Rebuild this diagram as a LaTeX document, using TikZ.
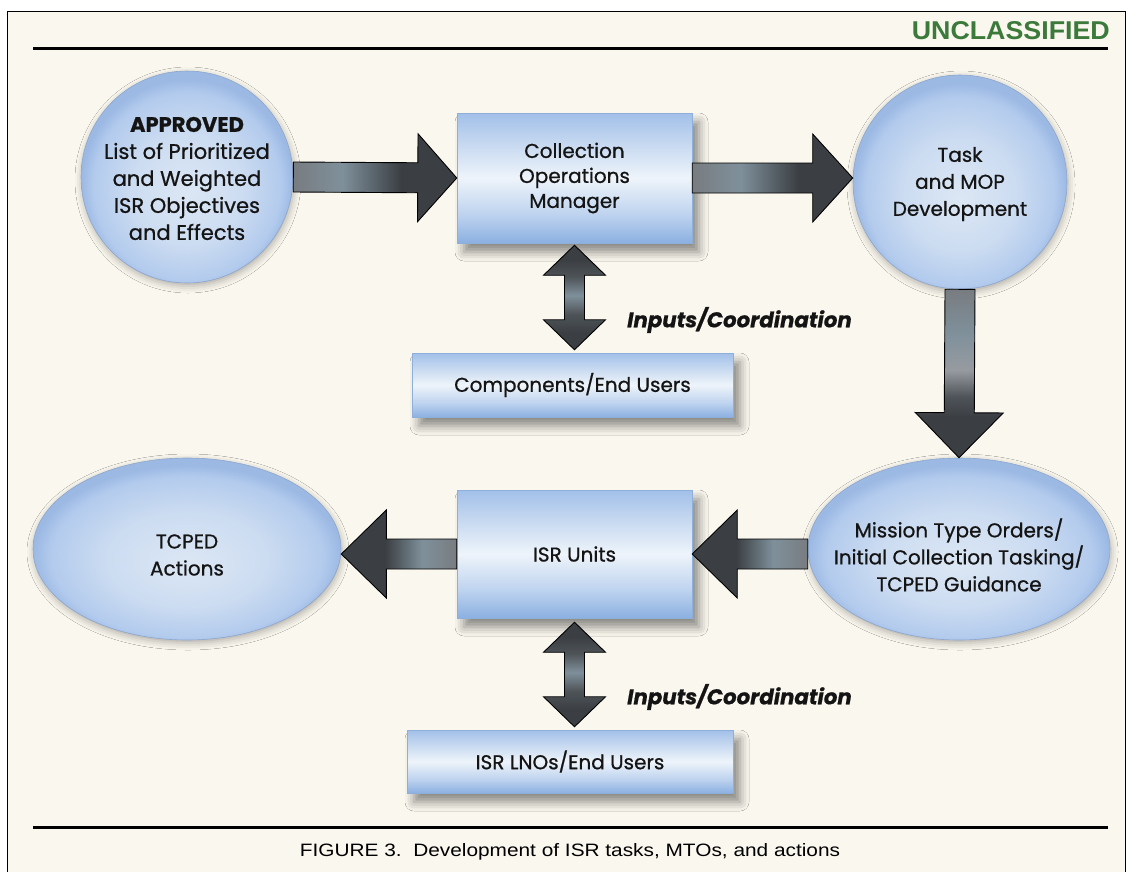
\documentclass[tikz,border=0pt]{standalone}
\usepackage{fontspec}
\setmainfont{Poppins}[FakeBold=0.75]
\newfontfamily\capfont{Liberation Sans}
\usetikzlibrary{calc,shapes.geometric,shadows.blur}

\definecolor{cream}{HTML}{FAF7EE}
\definecolor{ugreen}{HTML}{3C7A3C}
\definecolor{ink}{HTML}{141414}
% box shading colours
\definecolor{bxT}{HTML}{A2C0E9}
\definecolor{bxTm}{HTML}{CADBF1}
\definecolor{bxL}{HTML}{EEF4FA}
\definecolor{bxBm}{HTML}{BED3EF}
\definecolor{bxB}{HTML}{8BB0E1}
\definecolor{boxline}{HTML}{8EAFDA}
% orb shading colours
\definecolor{blC}{HTML}{DCE7F4}
\definecolor{blM}{HTML}{CCDCF1}
\definecolor{blE}{HTML}{B3CBED}
\definecolor{blO}{HTML}{9CB9E4}
\definecolor{orbline}{HTML}{8CA6CC}
% arrow colours
\definecolor{agD}{HTML}{3B3F43}
\definecolor{agM}{HTML}{4E5357}
\definecolor{agG}{HTML}{787C80}
\definecolor{agB}{HTML}{7F909B}
\definecolor{agL}{HTML}{979BA0}

\pgfdeclareverticalshading{boxsh}{100bp}{color(0bp)=(bxB); color(25bp)=(bxB); color(36bp)=(bxBm); color(50bp)=(bxL); color(62bp)=(bxTm); color(75bp)=(bxT); color(100bp)=(bxT)}
\pgfdeclareradialshading{orbsh}{\pgfpoint{0bp}{-4bp}}{color(0bp)=(blC); color(13bp)=(blM); color(22bp)=(blE); color(25bp)=(blO); color(50bp)=(blO)}
\pgfdeclarehorizontalshading{arrR}{100bp}{color(0bp)=(agG); color(25bp)=(agG); color(40bp)=(agB); color(58bp)=(agD); color(75bp)=(agD); color(100bp)=(agD)}
\pgfdeclarehorizontalshading{arrL}{100bp}{color(0bp)=(agD); color(25bp)=(agD); color(44bp)=(agD); color(60bp)=(agB); color(75bp)=(agG); color(100bp)=(agG)}
\pgfdeclareverticalshading{arrD}{100bp}{color(0bp)=(agD); color(37bp)=(agD); color(43bp)=(agM); color(51bp)=(agL); color(62bp)=(agB); color(75bp)=(agG); color(100bp)=(agG)}
\pgfdeclareverticalshading{arrV}{100bp}{color(0bp)=(agD); color(33bp)=(agD); color(42bp)=(agM); color(51bp)=(agB); color(60bp)=(agM); color(68bp)=(agD); color(100bp)=(agD)}

% fat single arrow: #1 style, #2 tail, #3 tip, #4 head length
\newcommand\fatarrow[4]{%
  \coordinate (fah) at ($(#3)!#4!(#2)$);
  \path[#1] ($(#2)!15pt!90:(#3)$) -- ($(fah)!15pt!90:(#3)$) -- ($(fah)!44pt!90:(#3)$)
    -- (#3) -- ($(fah)!44pt!-90:(#3)$) -- ($(fah)!15pt!-90:(#3)$) -- ($(#2)!15pt!-90:(#3)$) -- cycle;}
% fat double arrow: #1 style, #2 one tip, #3 other tip (named coordinates)
\newcommand\fatdouble[3]{%
  \coordinate (dah1) at ($(#2)!30pt!(#3)$);
  \coordinate (dah2) at ($(#3)!30pt!(#2)$);
  \path[#1] (#2) -- ($(dah1)!31pt!90:(#3)$) -- ($(dah1)!10pt!90:(#3)$) -- ($(dah2)!10pt!-90:(#2)$)
    -- ($(dah2)!31pt!-90:(#2)$) -- (#3) -- ($(dah2)!31pt!90:(#2)$) -- ($(dah2)!10pt!90:(#2)$)
    -- ($(dah1)!10pt!-90:(#3)$) -- ($(dah1)!31pt!-90:(#3)$) -- cycle;}

\tikzset{
  orb/.style={circle, inner sep=0pt, minimum size=#1, shading=orbsh, draw=orbline, line width=0.6pt,
    blur shadow={shadow xshift=1pt, shadow yshift=-3pt, shadow blur radius=7pt, shadow opacity=30}},
  oval/.style={ellipse, inner sep=0pt, shading=orbsh, draw=orbline, line width=0.6pt,
    blur shadow={shadow xshift=1pt, shadow yshift=-3pt, shadow blur radius=7pt, shadow opacity=30}},
  panel/.style={rectangle, inner sep=0pt, shading=boxsh, draw=boxline, line width=0.5pt,
    text=ink, font=\fontsize{20}{25}\selectfont, align=center,
    blur shadow={shadow xshift=7pt, shadow yshift=-9pt, shadow blur radius=9pt, shadow opacity=45}},
  lbl/.style={inner sep=0pt, text=ink, font=\fontsize{20}{27}\selectfont, align=center},
  coord/.style={inner sep=0pt, text=ink, font=\fontsize{21.3}{23}\selectfont\bfseries\itshape, anchor=west},
  rshaft/.style={shading=arrR, draw=black, line width=0.9pt, line join=miter},
  lshaft/.style={shading=arrL, draw=black, line width=0.9pt, line join=miter},
  dshaft/.style={shading=arrD, draw=black, line width=0.9pt, line join=miter},
  vshaft/.style={shading=arrV, draw=black, line width=0.9pt, line join=miter},
}

\begin{document}
\begin{tikzpicture}[x=1pt,y=-1pt]
\useasboundingbox (0,0) rectangle (1126,871);
\fill[white] (0,0) rectangle (1126,871);
\draw[fill=cream, line width=1pt] (7,11) rectangle (1125,885);
\draw[line width=3pt] (33,48) -- (1108,48);
\draw[line width=3pt] (33,827) -- (1108,827);

\node[inner sep=0pt, anchor=east, text=ugreen] (uncl) at (1110,31)
  {\resizebox{198pt}{18pt}{\capfont\bfseries UNCLASSIFIED}};
\node[inner sep=0pt] (cap) at (570,852)
  {\resizebox{540pt}{13pt}{\capfont FIGURE 3.\ \ Development of ISR tasks, MTOs, and actions}};

% shapes
\node[orb=212pt] (c1) at (187,177) {};
\node[lbl, font=\fontsize{21}{27}\selectfont] (c1t) at (187,178.5) {\textbf{APPROVED}\\List of Prioritized\\and Weighted\\ISR Objectives\\and Effects};

\node[panel, minimum width=235pt, minimum height=130pt] (com) at (574.5,178) {Collection\\Operations\\Manager};

\node[orb=214pt] (c2) at (960,182) {};
\node[lbl] (c2t) at (960,184) {Task\\and MOP\\Development};

\node[panel, minimum width=321pt, minimum height=64pt] (comp) at (572.5,385) {Components/End Users};

\node[oval, minimum width=302pt, minimum height=182pt] (mto) at (959,549) {};
\node[lbl] (mtot) at (959,555) {Mission Type Orders/\\Initial Collection Tasking/\\TCPED Guidance};

\node[panel, minimum width=235pt, minimum height=128pt] (isr) at (574.5,554) {ISR Units};

\node[oval, minimum width=308pt, minimum height=182pt] (tcp) at (187,549) {};
\node[lbl] (tcpt) at (187,555) {TCPED\\Actions};

\node[panel, minimum width=326pt, minimum height=63pt] (lno) at (570,761.5) {ISR LNOs/End Users};

\node[coord] (in1) at (627,320) {Inputs/Coordination};
\node[coord] (in2) at (627,697) {Inputs/Coordination};

% arrow end points
\coordinate (a2t) at (c2.west |- com.east);
\coordinate (a4s) at (mto.west |- isr.east);
\coordinate (a5t) at (tcp.east |- isr.west);
\coordinate (d1a) at ($(com.south)+(0,2)$);
\coordinate (d1b) at ($(comp.north -| com.south)+(0,-3)$);
\coordinate (d2a) at ($(isr.south)+(0,4)$);
\coordinate (d2b) at ($(lno.north -| isr.south)+(0,-3)$);

% arrows
\fatarrow{rshaft}{c1.east}{com.west}{39pt}
\fatarrow{rshaft}{com.east}{a2t}{40pt}
\fatarrow{dshaft}{c2.south}{mto.north}{45pt}
\fatarrow{lshaft}{a4s}{isr.east}{45pt}
\fatarrow{lshaft}{isr.west}{a5t}{45pt}
\fatdouble{vshaft}{d1a}{d1b}
\fatdouble{vshaft}{d2a}{d2b}
\end{tikzpicture}
\end{document}
